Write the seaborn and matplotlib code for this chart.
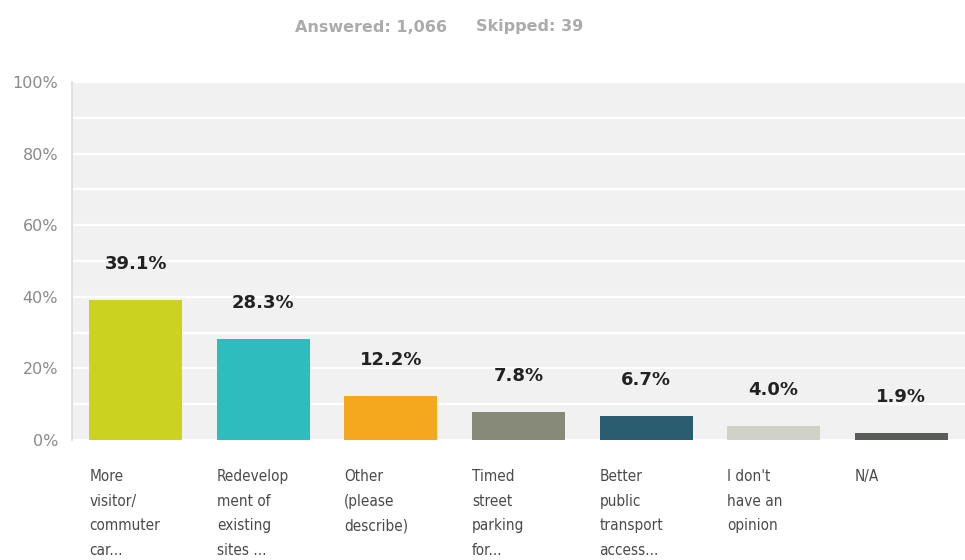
import matplotlib
matplotlib.use("Agg")
import matplotlib.pyplot as plt
import seaborn as sns
import pandas as pd
from matplotlib import font_manager
from matplotlib.font_manager import FontProperties
from matplotlib.ticker import FuncFormatter, MultipleLocator

categories = [
    "More\nvisitor/\ncommuter\ncar...",
    "Redevelop\nment of\nexisting\nsites ...",
    "Other\n(please\ndescribe)",
    "Timed\nstreet\nparking\nfor...",
    "Better\npublic\ntransport\naccess...",
    "I don't\nhave an\nopinion",
    "N/A",
]
values = [39.1, 28.3, 12.2, 7.8, 6.7, 4.0, 1.9]
colors = ["#cbd21f", "#2fbcbf", "#f4a81d", "#878a79", "#2b5d70", "#d0d1c9", "#5a5c5a"]
y_ticks = [0, 20, 40, 60, 80, 100]
answered = "Answered: 1,066"
skipped = "Skipped: 39"

df = pd.DataFrame({"option": categories, "pct": values})

sns.set_theme(style="white")
plt.rcParams["font.family"] = ["DejaVu Sans"]

# condensed regular face for the category labels
narrow_file = None
for f in font_manager.fontManager.ttflist:
    fn = f.fname.lower()
    if "liberation" in fn and "narrow" in fn and "bold" not in fn and "italic" not in fn:
        narrow_file = f.fname
        break
if narrow_file:
    cat_font = FontProperties(fname=narrow_file, size=12.5)
else:
    cat_font = FontProperties(family="DejaVu Sans", stretch="condensed", size=11)

fig = plt.figure(figsize=(9.65, 5.6), dpi=100)
ax = fig.add_axes([72 / 965, 120 / 560, 893 / 965, 358 / 560])
ax.set_facecolor("#f1f1f1")

sns.barplot(data=df, x="option", y="pct", hue="option", palette=colors,
            order=categories, hue_order=categories, legend=False,
            width=0.73, saturation=1, linewidth=0, ax=ax, zorder=3)

ax.set_ylim(0, 100)
ax.set_xlim(-0.5, len(categories) - 0.5)
ax.yaxis.set_minor_locator(MultipleLocator(10))
ax.set_yticks(y_ticks)
ax.yaxis.set_major_formatter(FuncFormatter(lambda v, _: f"{v:.0f}%"))
ax.grid(axis="y", which="both", color="white", linewidth=1.6, zorder=0)
ax.set_axisbelow(True)
ax.tick_params(axis="y", which="both", length=0, labelsize=11.5, labelcolor="#8a8a8a", pad=10)
ax.set_xlabel("")
ax.set_ylabel("")

for side in ["top", "right", "bottom"]:
    ax.spines[side].set_visible(False)
ax.spines["left"].set_color("#dcdcdc")
ax.spines["left"].set_linewidth(1.2)

# category labels, left-aligned under each bar
ax.set_xticks(range(len(categories)))
ax.set_xticklabels([])
ax.tick_params(axis="x", length=0)
for i, lab in enumerate(categories):
    ax.annotate(lab, xy=(i - 0.365, 0), xycoords="data",
                xytext=(0, -21), textcoords="offset points",
                ha="left", va="top", fontproperties=cat_font, color="#4a4a4a",
                linespacing=1.8)

# value labels above bars
for i, v in enumerate(values):
    ax.annotate(f"{v:.1f}%", xy=(i, v), xytext=(0, 26), textcoords="offset points",
                ha="center", va="center", fontsize=13, fontweight="bold",
                color="#222222")

fig.text(447 / 965, 1 - 27 / 560, answered, ha="right", va="center",
         fontsize=11.5, fontweight="bold", color="#ababab")
fig.text(476 / 965, 1 - 27 / 560, skipped, ha="left", va="center",
         fontsize=11.5, fontweight="bold", color="#ababab")

fig.savefig("out.png", dpi=100, facecolor="white")
